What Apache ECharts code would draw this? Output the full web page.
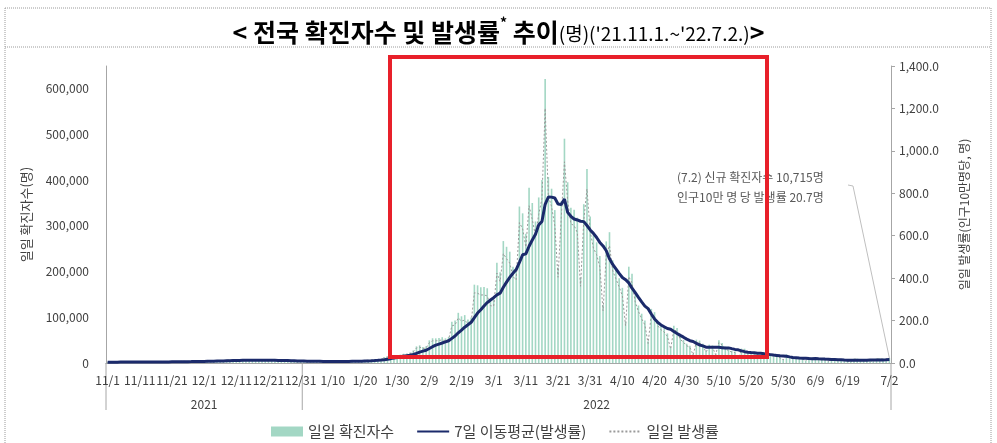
<!DOCTYPE html>
<html><head><meta charset="utf-8">
<script src="https://cdn.jsdelivr.net/npm/echarts@6/dist/echarts.min.js"></script>
<style>html,body{margin:0;padding:0;background:#fff}#c{width:997px;height:443px}</style>
</head><body><div id="c"></div>
<script>
// Daily confirmed cases (announcement dates)
const casesNov = [1686,1589,2667,2482,2344,2248,2224,1758,1715,2425,2520,2368,2324,2419,2006,2124,3187,3292,3034,3206,2827,2368,2699,4116,3938,3899,4068,3928,3308,3032];
const casesDec = [5123,5266,4944,5352,5128,4325,4954,7175,7102,7022,6977,6689,5817,5567,7850,7622,7435,7314,6236,5318,5202,7456,6919,6233,5842,5419,4207,3865,5409,5037,4875];
const casesJan = [4416,3833,3129,3022,4444,4126,3713,3511,3376,3005,3097,4388,4167,4542,4422,4193,3857,4071,5805,6603,6769,7009,7630,7513,8571,13012,14518,16096,17542,17079,18342];
const casesFeb = [20270,20908,22907,27443,36362,38691,35286,36719,49567,54122,53926,54941,56431,53969,57177,90443,93135,109831,102211,104829,95362,99573,171452,170016,165890,166209,163565,139626];
const casesMar = [138993,219241,198803,266853,254327,243628,210716,202721,342446,327549,282987,383665,350190,309790,362338,400741,621328,407017,381454,334708,209169,353980,490881,395598,339514,335580,318130,187213,347554,424641,320743];
const casesApr = [280273,264171,234301,127190,266135,286294,224820,205333,185566,164481,90928,210755,195419,148443,125846,107916,93001,47743,118504,111319,90867,81058,75449,64725,34370,81595,76787,57464,50568,42296];
const casesMay = [37771,20084,51131,49064,42296,26714,40064,38350,20601,49933,43925,35906,29581,26714,25434,13296,31562,31200,26000,23956,23000,19298,9975,23956,23945,18816,17191,16584,12542,7434,18800];
const casesJun = [13358,9878,12542,11002,9832,5021,13358,12160,11800,8441,8440,7382,3828,9435,9311,7995,7199,6065,5022,3425,9305,9591,7497,7224,6240,6249,3423,9896,10463,9595];
const casesJul = [9528,10715];

// months shown (month, number of days in the chart)
const monthSpans = [[11,30],[12,31],[1,31],[2,28],[3,31],[4,30],[5,31],[6,30],[7,2]];
// persons per 100,000 population (10,715명 -> 20.7명)
const per100k = 517.6;

const leftTicks = [0,100000,200000,300000,400000,500000,600000];
const rightTicks = [0,200,400,600,800,1000,1200,1400];

const cases = [].concat(casesNov,casesDec,casesJan,casesFeb,casesMar,casesApr,casesMay,casesJun,casesJul);
const dates = [];
monthSpans.forEach(([m,n]) => { for (let d = 1; d <= n; d++) dates.push(m + '/' + d); });
const rate = cases.map(v => +(v / per100k).toFixed(1));
const avg7 = rate.map((v,i) => {
  const s = rate.slice(Math.max(0,i-6), i+1);
  return +(s.reduce((a,b)=>a+b,0)/s.length).toFixed(1);
});
const last = dates.length - 1;

const FONT = '"Noto Sans CJK KR", "Noto Sans", sans-serif';
const TXT = '#404040';
const AX = '#a6a6a6';

const chart = echarts.init(document.getElementById('c'), null, {renderer:'canvas'});
const option = {
  animation: false,
  textStyle: {fontFamily: FONT},
  title: {
    left: 'center', top: 11,
    text: '{a|< 전국 확진자수 및 발생률}{s|*}{a| 추이}{b|(명)(\'21.11.1.~\'22.7.2.)}{a|>}',
    textStyle: {
      rich: {
        a: {fontFamily: FONT, fontSize: 25, fontWeight: 'bold', color: '#000', lineHeight: 32},
        s: {fontFamily: FONT, fontSize: 14, fontWeight: 'bold', color: '#000', verticalAlign: 'top', lineHeight: 32, padding:[0,0,10,0]},
        b: {fontFamily: FONT, fontSize: 19, fontWeight: 'normal', color: '#000', lineHeight: 32, padding:[3,0,0,0]}
      }
    }
  },
  grid: {left: 106, right: 106, top: 66, bottom: 80},
  legend: {
    left: 266, top: 419,
    itemWidth: 32, itemHeight: 10, itemGap: 22,
    textStyle: {fontSize: 15, color: TXT, fontFamily: FONT},
    data: [
      {name: '일일 확진자수', icon: 'rect'},
      {name: '7일 이동평균(발생률)', itemStyle: {opacity: 0}},
      {name: '일일 발생률', itemStyle: {opacity: 0}}
    ]
  },
  xAxis: {
    type: 'category', data: dates, boundaryGap: true,
    axisLine: {show: true, lineStyle: {color: AX}},
    axisTick: {show: false},
    axisLabel: {
      interval: (idx) => (idx % 10 === 0 && idx <= 230) || idx === last,
      color: TXT, fontSize: 12, margin: 11, fontFamily: FONT
    }
  },
  yAxis: [
    {
      type: 'value', min: 0, max: 650000, interval: 100000,
      name: '일일 확진자수(명)', nameLocation: 'middle', nameGap: 73, nameRotate: 90,
      nameTextStyle: {color: TXT, fontSize: 13, fontFamily: FONT},
      axisLine: {show: true, lineStyle: {color: AX}},
      axisTick: {show: false},
      splitLine: {show: false},
      axisLabel: {
        color: TXT, fontSize: 12, margin: 17,
        formatter: v => leftTicks.includes(v) ? v.toLocaleString('en-US') : ''
      }
    },
    {
      type: 'value', min: 0, max: 1400, interval: 200, position: 'right',
      name: '일일 발생률(인구10만명당, 명)', nameLocation: 'middle', nameGap: 67, nameRotate: 90,
      nameTextStyle: {color: TXT, fontSize: 12, fontFamily: FONT},
      axisLine: {show: true, lineStyle: {color: AX}},
      axisTick: {show: true, length: 4, lineStyle: {color: AX}},
      splitLine: {show: false},
      axisLabel: {
        color: TXT, fontSize: 12, margin: 8,
        formatter: v => rightTicks.includes(v) ? v.toLocaleString('en-US', {minimumFractionDigits:1, maximumFractionDigits:1}) : ''
      }
    }
  ],
  series: [
    {
      name: '일일 확진자수', type: 'bar', yAxisIndex: 0, data: cases,
      barWidth: '50%', itemStyle: {color: '#a3d7c4'}
    },
    {
      name: '일일 발생률', type: 'line', yAxisIndex: 1, data: rate,
      symbol: 'none', lineStyle: {color: '#9a9a9a', width: 1, type: [2,2]},
      itemStyle: {color: '#9a9a9a'}
    },
    {
      name: '7일 이동평균(발생률)', type: 'line', yAxisIndex: 1, data: avg7,
      symbol: 'none', lineStyle: {color: '#1b2a6b', width: 3},
      itemStyle: {color: '#1b2a6b'}
    }
  ]
};
chart.setOption(option);

// decorations computed from the axes
const c0 = chart.convertToPixel({xAxisIndex: 0}, 0);
const c1 = chart.convertToPixel({xAxisIndex: 0}, 1);
const bw = c1 - c0;
const yZero = chart.convertToPixel({yAxisIndex: 0}, 0);
const janIdx = 61;
const xStart = c0 - bw/2;
const xJan = chart.convertToPixel({xAxisIndex: 0}, janIdx) - bw/2;
const xEnd = chart.convertToPixel({xAxisIndex: 0}, last) + bw/2;
const lastPt = chart.convertToPixel({xAxisIndex: 0, yAxisIndex: 0}, [last, cases[last]]);
const dotted = {stroke: '#9a9a9a', lineWidth: 1, lineDash: [1,1]};

chart.setOption({
  graphic: [
    {type: 'line', shape: {x1: 5, y1: 8, x2: 991, y2: 8}, style: dotted, silent: true},
    {type: 'line', shape: {x1: 5, y1: 47, x2: 991, y2: 47}, style: dotted, silent: true},
    {type: 'line', shape: {x1: 5, y1: 8, x2: 5, y2: 443}, style: dotted, silent: true},
    {type: 'line', shape: {x1: 991, y1: 8, x2: 991, y2: 443}, style: dotted, silent: true},
    {type: 'line', shape: {x1: xStart, y1: yZero, x2: xStart, y2: 410}, style: {stroke: AX, lineWidth: 1}, silent: true},
    {type: 'line', shape: {x1: xJan, y1: yZero, x2: xJan, y2: 410}, style: {stroke: AX, lineWidth: 1}, silent: true},
    {type: 'line', shape: {x1: xEnd, y1: yZero, x2: xEnd, y2: 410}, style: {stroke: AX, lineWidth: 1}, silent: true},
    {type: 'text', x: (xStart + xJan)/2, y: 404, style: {text: '2021', fill: TXT, font: '12px ' + FONT, textAlign: 'center', textVerticalAlign: 'middle'}},
    {type: 'text', x: (xJan + xEnd)/2, y: 404, style: {text: '2022', fill: TXT, font: '12px ' + FONT, textAlign: 'center', textVerticalAlign: 'middle'}},
    {type: 'text', x: 677, y: 177, style: {text: '(7.2) 신규 확진자수 ' + cases[last].toLocaleString('en-US') + '명', fill: '#595959', font: '12px ' + FONT, textVerticalAlign: 'middle'}},
    {type: 'text', x: 677, y: 197, style: {text: '인구10만 명 당 발생률 ' + (cases[last]/per100k).toFixed(1) + '명', fill: '#595959', font: '12px ' + FONT, textVerticalAlign: 'middle'}},
    {type: 'polyline', shape: {points: [[848,185],[853,186],[lastPt[0], lastPt[1]]]}, style: {stroke: '#bfbfbf', lineWidth: 1, fill: null}, silent: true},
    {type: 'rect', shape: {x: 390, y: 57, width: 377, height: 300}, style: {stroke: '#e8202a', lineWidth: 4, fill: null}, silent: true, z: 100}
  ]
});
</script>
</body></html>
